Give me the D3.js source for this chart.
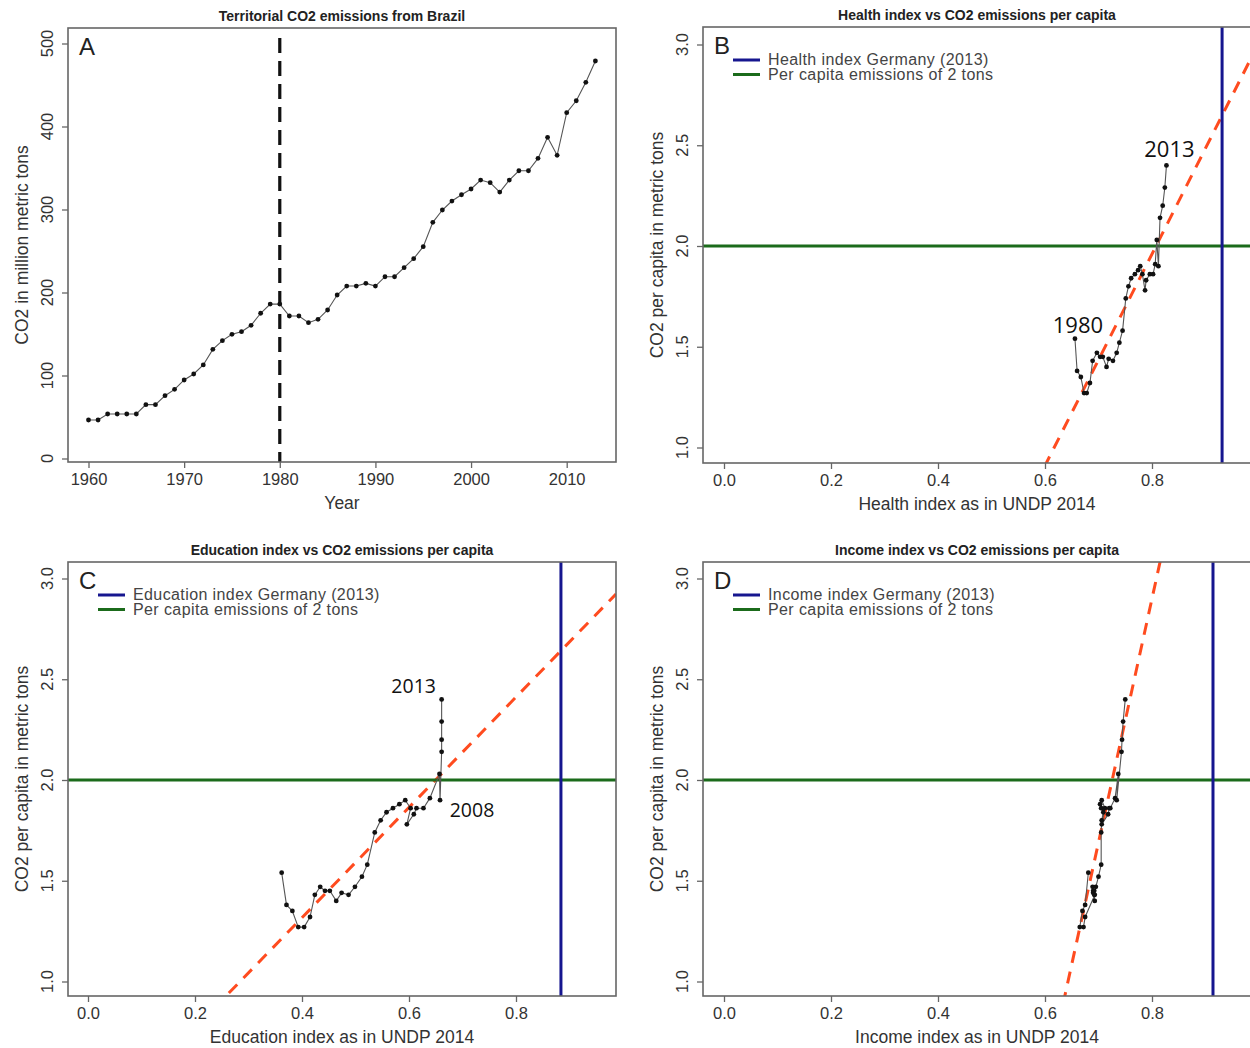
<!DOCTYPE html>
<html>
<head>
<meta charset="utf-8">
<script src="https://cdn.jsdelivr.net/npm/d3@7"></script>
<style>
  body { margin: 0; background: #fff; }
  text { font-family: "Liberation Sans", Arial, sans-serif; }
</style>
</head>
<body>
<div id="chart"></div>
<script>
// panel A: territorial emissions, million metric tons
const yearsA = [1960,1961,1962,1963,1964,1965,1966,1967,1968,1969,1970,1971,1972,1973,1974,1975,1976,1977,1978,1979,
  1980,1981,1982,1983,1984,1985,1986,1987,1988,1989,1990,1991,1992,1993,1994,1995,1996,1997,1998,1999,
  2000,2001,2002,2003,2004,2005,2006,2007,2008,2009,2010,2011,2012,2013];
const emissionsA = [46.4,46.4,53.6,53.6,53.6,53.6,64.9,64.9,75.7,83.3,94.6,101.8,112.7,131.5,142,149.6,152.8,160.5,175,186,
  186,171.7,171.7,163.6,167.7,178.9,197,207.8,207.8,211,207.8,219,219,229.9,240.8,255.2,284.5,299.4,310.2,317.8,
  324.7,335.5,332.3,321,335.5,346.7,346.7,361.6,387,365.3,416.6,431,453.2,478.9];

// panels B-D: per capita emissions 1980-2013 against UNDP indices
const yearsPC = [1980,1981,1982,1983,1984,1985,1986,1987,1988,1989,1990,1991,1992,1993,1994,1995,1996,
  1997,1998,1999,2000,2001,2002,2003,2004,2005,2006,2007,2008,2009,2010,2011,2012,2013];
const perCapita = [1.54,1.38,1.35,1.27,1.27,1.32,1.43,1.47,1.45,1.45,1.40,1.44,1.43,1.47,1.52,1.58,1.74,
  1.80,1.84,1.86,1.88,1.90,1.86,1.78,1.83,1.86,1.86,1.91,2.03,1.90,2.14,2.20,2.29,2.40];
const healthIdx = [0.656,0.660,0.667,0.673,0.678,0.684,0.689,0.697,0.703,0.708,0.715,0.719,0.727,0.734,0.739,0.745,0.751,
  0.756,0.761,0.768,0.774,0.778,0.782,0.787,0.789,0.796,0.802,0.806,0.809,0.812,0.815,0.820,0.824,0.827];
const eduIdx = [0.362,0.371,0.382,0.393,0.404,0.415,0.424,0.434,0.443,0.452,0.464,0.474,0.487,0.499,0.512,0.522,0.536,
  0.547,0.558,0.570,0.582,0.593,0.603,0.596,0.609,0.614,0.627,0.639,0.657,0.658,0.661,0.661,0.661,0.661];
const incomeIdx = [0.681,0.675,0.670,0.665,0.672,0.675,0.693,0.689,0.690,0.692,0.693,0.690,0.692,0.695,0.700,0.705,0.705,
  0.706,0.709,0.705,0.703,0.706,0.712,0.706,0.718,0.720,0.722,0.731,0.737,0.734,0.743,0.744,0.746,0.750];

// reference values and fitted lines [intercept, slope]
const germanyHealth = 0.931, germanyEdu = 0.884, germanyIncome = 0.914;
const threshold = 2;
const fitB = [-2.24, 5.25], fitC = [0.222, 2.737], fitD = [-6.78, 12.1];

const yearTicks = [1960,1970,1980,1990,2000,2010];
const tonTicks = [0,100,200,300,400,500];
const idxTicks = [0,0.2,0.4,0.6,0.8];
const pcTicks = [1.0,1.5,2.0,2.5,3.0];

const W = 1250, H = 1048;
const BLUE = "#16168f", GREEN = "#1b6b1b", RED = "#ff4b1f", AXIS = "#666", TXT = "#333";

const svg = d3.select("#chart").append("svg").attr("width", W).attr("height", H);

function frame(p) {
  const g = svg.append("g");
  const b = p.box;
  g.append("clipPath").attr("id", p.id).append("rect")
    .attr("x", b.l).attr("y", b.t).attr("width", b.r - b.l).attr("height", b.b - b.t);

  const xa = g.append("g").attr("transform", `translate(0,${b.b})`)
    .call(d3.axisBottom(p.x).tickValues(p.xTicks).tickSize(6).tickPadding(5).tickFormat(p.fmtX));
  const ya = g.append("g").attr("transform", `translate(${b.l},0)`)
    .call(d3.axisLeft(p.y).tickValues(p.yTicks).tickSize(6).tickFormat(""));
  [xa, ya].forEach(a => {
    a.select(".domain").remove();
    a.selectAll("line").attr("stroke", AXIS).attr("stroke-width", 1.3);
  });
  xa.selectAll("text").attr("fill", TXT).style("font-size", "16.5px");

  g.selectAll(".ylab").data(p.yTicks).enter().append("text")
    .attr("transform", d => `translate(${b.l - 15},${p.y(d)}) rotate(-90)`)
    .attr("text-anchor", "middle").attr("fill", TXT).style("font-size", "16.5px")
    .text(p.fmtY);

  g.append("text").attr("x", p.titleX).attr("y", b.t - 7).attr("text-anchor", "middle")
    .style("font-size", "14px").style("font-weight", "bold").attr("fill", "#222").text(p.title);
  g.append("text").attr("x", p.titleX).attr("y", b.b + 47).attr("text-anchor", "middle")
    .style("font-size", "17.5px").attr("fill", TXT).text(p.xLabel);
  g.append("text").attr("transform", `translate(${b.l - 40},${(b.t + b.b) / 2}) rotate(-90)`)
    .attr("text-anchor", "middle").style("font-size", "17.5px").attr("fill", TXT).text(p.yLabel);
  g.append("text").attr("x", b.l + 11).attr("y", b.t + 27)
    .style("font-size", "24px").attr("fill", "#222").text(p.letter);

  const plot = g.append("g").attr("clip-path", `url(#${p.id})`);
  g.append("rect").attr("x", b.l).attr("y", b.t).attr("width", b.r - b.l).attr("height", b.b - b.t)
    .attr("fill", "none").attr("stroke", AXIS).attr("stroke-width", 1.6);
  return { g, plot };
}

function dots(plot, xs, ys, x, y) {
  const pts = xs.map((d, i) => [x(d), y(ys[i])]);
  plot.append("path").attr("d", d3.line()(pts))
    .attr("fill", "none").attr("stroke", "#555").attr("stroke-width", 1.1);
  plot.selectAll(".pt").data(pts).enter().append("circle")
    .attr("cx", d => d[0]).attr("cy", d => d[1]).attr("r", 2.4).attr("fill", "#111");
}

function indexPanel(p) {
  const f = frame(p);
  const b = p.box, x = p.x, y = p.y;
  const x0 = x.invert(b.l), x1 = x.invert(b.r);
  f.plot.append("line")
    .attr("x1", x(x0)).attr("y1", y(p.fit[0] + p.fit[1] * x0))
    .attr("x2", x(x1)).attr("y2", y(p.fit[0] + p.fit[1] * x1))
    .attr("stroke", RED).attr("stroke-width", 3).attr("stroke-dasharray", "12,9");
  f.plot.append("line").attr("x1", b.l).attr("x2", b.r).attr("y1", y(threshold)).attr("y2", y(threshold))
    .attr("stroke", GREEN).attr("stroke-width", 3);
  f.plot.append("line").attr("x1", x(p.germany)).attr("x2", x(p.germany)).attr("y1", b.t).attr("y2", b.b)
    .attr("stroke", BLUE).attr("stroke-width", 3);
  dots(f.plot, p.xs, perCapita, x, y);

  const leg = f.g.append("g").attr("transform", `translate(${b.l + 30},${b.t + 33})`);
  [[BLUE, p.legend], [GREEN, "Per capita emissions of 2 tons"]].forEach((d, i) => {
    leg.append("line").attr("x1", 0).attr("x2", 27).attr("y1", i * 14.5).attr("y2", i * 14.5)
      .attr("stroke", d[0]).attr("stroke-width", 3);
    leg.append("text").attr("x", 35).attr("y", i * 14.5 + 5).style("font-size", "16px")
      .style("letter-spacing", "0.4px").attr("fill", "#444").text(d[1]);
  });

  p.notes.forEach(n => {
    const i = yearsPC.indexOf(n.year);
    f.g.append("text").attr("x", x(p.xs[i]) + n.dx).attr("y", y(perCapita[i]) + n.dy)
      .attr("text-anchor", "middle").style("font-family", "'Open Sans', sans-serif")
      .style("font-size", n.size + "px").attr("fill", "#111").text(n.label || n.year);
  });
}

// Panel A
const boxA = { l: 68, r: 616, t: 28, b: 462 };
const xA = d3.scaleLinear().domain([1960, 2010]).range([88.5, 566.7]);
const yA = d3.scaleLinear().domain([0, 500]).range([458.5, 43.5]);
const fA = frame({ id: "cA", box: boxA, x: xA, y: yA, xTicks: yearTicks, yTicks: tonTicks,
  fmtX: d3.format("d"), fmtY: d3.format("d"), titleX: 342,
  title: "Territorial CO2 emissions from Brazil", xLabel: "Year",
  yLabel: "CO2 in million metric tons", letter: "A" });
fA.plot.append("line").attr("x1", xA(1980)).attr("x2", xA(1980)).attr("y1", 38).attr("y2", boxA.b)
  .attr("stroke", "#111").attr("stroke-width", 3.2).attr("stroke-dasharray", "15,8");
dots(fA.plot, yearsA, emissionsA, xA, yA);

const fmtIdx = d3.format(".1f");
const yTop = d3.scaleLinear().domain([1, 3]).range([447.5, 44.5]);
const yBot = d3.scaleLinear().domain([1, 3]).range([981.5, 578.5]);
const xRight = d3.scaleLinear().domain([0, 0.8]).range([724, 1152]);
const xLeft = d3.scaleLinear().domain([0, 0.8]).range([88, 516]);

indexPanel({ id: "cB", box: { l: 703, r: 1252, t: 27, b: 463 }, x: xRight, y: yTop,
  xTicks: idxTicks, yTicks: pcTicks, fmtX: fmtIdx, fmtY: fmtIdx, titleX: 977,
  title: "Health index vs CO2 emissions per capita", xLabel: "Health index as in UNDP 2014",
  yLabel: "CO2 per capita in metric tons", letter: "B", xs: healthIdx, fit: fitB,
  germany: germanyHealth, legend: "Health index Germany (2013)",
  notes: [{ year: 2013, dx: 3, dy: -8, size: 22 }, { year: 1980, dx: 3, dy: -6, size: 22 }] });

indexPanel({ id: "cC", box: { l: 68, r: 616, t: 562, b: 996 }, x: xLeft, y: yBot,
  xTicks: idxTicks, yTicks: pcTicks, fmtX: fmtIdx, fmtY: fmtIdx, titleX: 342,
  title: "Education index vs CO2 emissions per capita", xLabel: "Education index as in UNDP 2014",
  yLabel: "CO2 per capita in metric tons", letter: "C", xs: eduIdx, fit: fitC,
  germany: germanyEdu, legend: "Education index Germany (2013)",
  notes: [{ year: 2013, dx: -28, dy: -6, size: 19.5 }, { year: 2009, dx: 32, dy: 17, size: 19.5, label: "2008" }] });

indexPanel({ id: "cD", box: { l: 703, r: 1252, t: 562, b: 996 }, x: xRight, y: yBot,
  xTicks: idxTicks, yTicks: pcTicks, fmtX: fmtIdx, fmtY: fmtIdx, titleX: 977,
  title: "Income index vs CO2 emissions per capita", xLabel: "Income index as in UNDP 2014",
  yLabel: "CO2 per capita in metric tons", letter: "D", xs: incomeIdx, fit: fitD,
  germany: germanyIncome, legend: "Income index Germany (2013)", notes: [] });
</script>
</body>
</html>
